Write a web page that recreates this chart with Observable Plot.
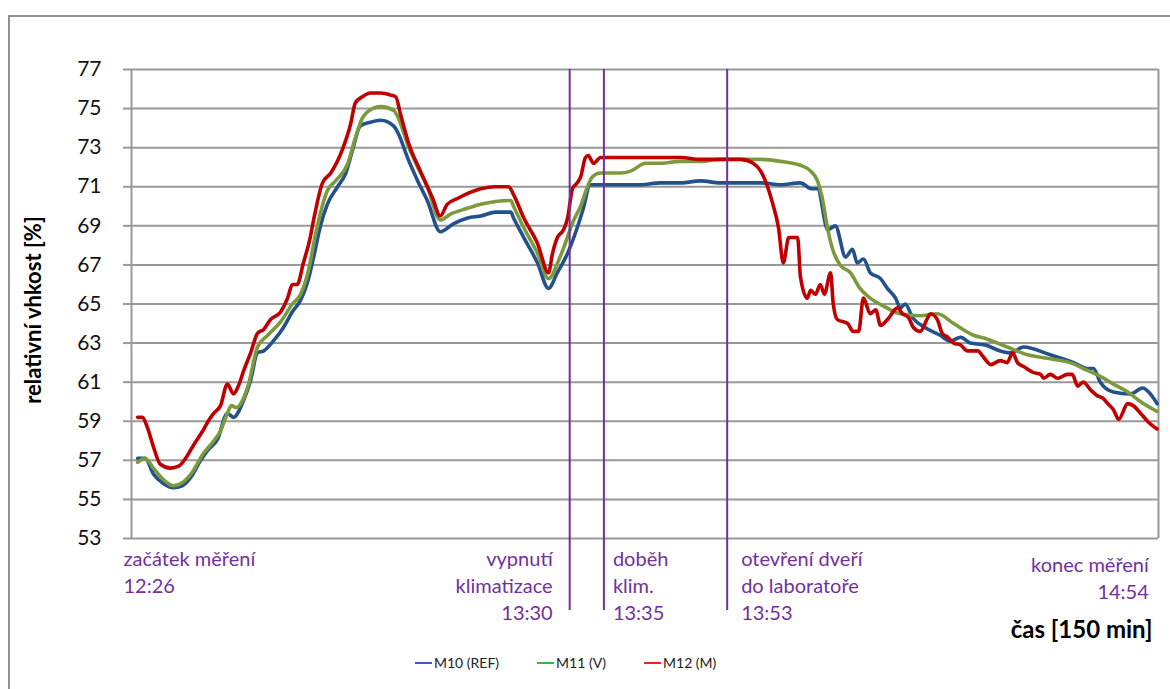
<!DOCTYPE html>
<html>
<head>
<meta charset="utf-8">
<script src="https://cdn.jsdelivr.net/npm/d3@7"></script>
<script src="https://cdn.jsdelivr.net/npm/@observablehq/plot@0.6"></script>
<style>
  html, body { margin: 0; padding: 0; background: #fff; }
  #wrap { position: relative; width: 1170px; height: 689px; overflow: hidden; font-family: Lato, "Open Sans", sans-serif; }
  #frame { position: absolute; left: 8px; top: 15px; width: 1200px; height: 720px;
           border-top: 2px solid #929292; border-left: 2px solid #929292; }
  #chart { position: absolute; left: 0; top: 0; }
  #legend { position: absolute; left: 415px; top: 653px; display: flex; gap: 38px;
            font-size: 14px; color: #222; line-height: 20px; }
  #legend .item { display: flex; align-items: center; }
  #legend .sw { width: 17px; height: 2.5px; margin-right: 2px; }
</style>
</head>
<body>
<div id="wrap">
  <div id="frame"></div>
  <div id="chart"></div>
  <div id="legend"></div>
</div>
<script>
// Relative humidity in the laboratory, minutes since 12:26 (measurement start)
const seriesNames = ["M10 (REF)", "M11 (V)", "M12 (M)"];
const lineColors = ["#22518C", "#7A9A3C", "#C00000"];
const legendColors = ["#4655D0", "#3CB44A", "#E8232A"];

const m10Minutes = [0.9, 2.0, 3.2, 4.7, 6.1, 7.4, 8.6, 10.1, 11.1, 12.6, 14.0, 14.9, 16.4, 17.4, 18.4, 19.3, 20.7, 22.2, 23.5, 24.7,
  25.7, 26.6, 27.6, 28.6, 30.1, 31.3, 32.3, 33.4, 34.9, 36.4, 38.3, 39.0, 40.3, 41.8, 43.2, 45.1, 47.0, 49.1, 51.0, 53.2,
  55.4, 55.8, 57.3, 59.3, 60.9, 62.2, 63.7, 65.1, 66.0, 67.0, 68.5, 71.4, 74.3, 77.3, 80.2, 83.1, 86.0, 89.0, 91.9, 94.8,
  97.7, 99.3, 100.2, 101.7, 102.8, 104.3, 105.3, 106.0, 106.9, 107.9, 109.4, 110.4, 111.6, 112.3, 113.0, 114.1, 115.9, 118.1, 119.6, 121.1,
  122.5, 124.7, 126.9, 128.4, 130.3, 134.2, 137.6, 139.6, 140.5, 141.5, 143.4, 145.9, 147.7, 148.8, 149.8];
const m10Values = [57.1, 57.1, 56.3, 55.8, 55.6, 55.7, 56.1, 57.0, 57.5, 58.1, 59.4, 59.2, 60.1, 61.1, 62.5, 62.6, 63.1, 63.8, 64.6, 65.2,
  66.1, 67.4, 69.0, 70.1, 71.0, 71.7, 72.9, 74.1, 74.3, 74.4, 74.1, 73.7, 72.5, 71.3, 70.3, 68.7, 69.1, 69.4, 69.5, 69.7,
  69.7, 69.4, 68.4, 67.1, 65.8, 66.6, 67.6, 68.9, 69.9, 71.1, 71.1, 71.1, 71.1, 71.2, 71.2, 71.3, 71.2, 71.2, 71.2, 71.1,
  71.2, 70.9, 70.9, 68.8, 69.0, 67.4, 67.8, 67.1, 67.3, 66.6, 66.3, 65.8, 65.3, 64.8, 65.0, 64.3, 63.8, 63.4, 63.1, 63.3,
  63.0, 62.9, 62.6, 62.5, 62.8, 62.4, 62.0, 61.7, 61.7, 61.0, 60.5, 60.4, 60.7, 60.4, 59.9];

const m11Minutes = [0.9, 2.0, 3.2, 4.7, 6.1, 7.6, 8.9, 10.4, 11.8, 13.0, 14.0, 14.6, 15.3, 16.4, 17.1, 18.4, 19.9, 21.8, 23.5, 24.7,
  25.9, 26.9, 28.6, 29.8, 31.6, 32.7, 33.7, 35.2, 36.4, 38.3, 39.0, 40.3, 41.8, 43.2, 45.1, 46.6, 49.1, 51.0, 55.4, 55.8,
  57.3, 59.3, 60.9, 62.7, 64.6, 65.6, 66.6, 67.3, 68.5, 71.4, 72.9, 75.1, 77.3, 80.2, 83.1, 86.0, 89.0, 91.9, 94.8, 97.7,
  99.2, 100.2, 100.9, 101.7, 102.5, 103.5, 105.0, 106.4, 107.9, 109.8, 112.3, 115.2, 117.7, 120.1, 123.0, 125.0, 127.9, 130.9, 134.2, 137.1,
  139.6, 141.5, 143.4, 145.5, 147.4, 149.8];
const m11Values = [56.9, 57.1, 56.6, 56.0, 55.7, 55.9, 56.4, 57.3, 57.9, 58.5, 59.4, 59.8, 59.7, 60.2, 60.9, 62.8, 63.4, 64.1, 65.0, 65.5,
  66.8, 68.6, 70.8, 71.3, 72.2, 73.5, 74.5, 75.0, 75.1, 74.9, 74.5, 73.2, 72.0, 71.0, 69.3, 69.6, 69.9, 70.1, 70.3, 70.0,
  68.9, 67.6, 66.3, 67.5, 69.3, 70.0, 71.0, 71.5, 71.7, 71.7, 71.8, 72.2, 72.2, 72.3, 72.3, 72.4, 72.4, 72.4, 72.3, 72.1,
  71.8, 71.3, 70.4, 68.8, 67.7, 67.0, 66.6, 65.8, 65.3, 64.9, 64.5, 64.4, 64.5, 64.0, 63.4, 63.2, 62.8, 62.4, 62.2, 62.0,
  61.6, 61.3, 60.9, 60.5, 60.0, 59.5];

const m12Minutes = [0.9, 1.6, 2.3, 3.2, 4.2, 5.7, 6.9, 7.9, 9.1, 10.4, 11.2, 12.0, 13.0, 14.0, 14.9, 15.6, 16.4, 17.4, 18.4, 19.3,
  20.3, 21.8, 22.8, 23.5, 24.2, 25.1, 26.1, 26.6, 27.9, 29.1, 30.8, 32.0, 32.7, 33.7, 34.9, 36.4, 37.8, 38.6, 39.3, 40.5,
  42.2, 44.0, 45.1, 46.1, 47.6, 51.0, 53.2, 55.1, 55.8, 57.3, 59.3, 60.9, 61.5, 62.2, 63.1, 63.7, 64.4, 65.1, 65.6, 66.3,
  66.7, 67.5, 68.5, 71.4, 74.3, 77.3, 80.2, 83.1, 86.0, 89.0, 90.8, 91.9, 92.9, 93.6, 94.5, 95.2, 96.0, 97.3, 97.7, 98.7,
  99.2, 99.9, 100.6, 101.2, 102.1, 102.5, 103.1, 104.6, 105.4, 106.2, 106.9, 107.9, 108.7, 109.4, 110.4, 111.9, 112.6, 113.5, 114.2, 115.2,
  116.3, 116.7, 117.7, 118.4, 119.2, 120.1, 121.1, 122.1, 123.6, 124.4, 125.5, 126.9, 127.9, 128.7, 129.4, 130.3, 131.7, 132.8, 133.2, 134.2,
  135.3, 136.7, 137.4, 138.2, 139.0, 140.1, 141.1, 141.8, 142.6, 143.4, 144.2, 145.5, 146.3, 147.4, 148.4, 149.8];
const m12Values = [59.2, 59.2, 58.7, 57.7, 56.8, 56.6, 56.7, 57.1, 57.8, 58.5, 59.0, 59.4, 59.8, 60.9, 60.4, 60.8, 61.6, 62.5, 63.5, 63.7,
  64.2, 64.6, 65.3, 66.0, 66.0, 67.1, 68.4, 69.3, 71.2, 71.7, 72.9, 74.2, 75.3, 75.6, 75.8, 75.8, 75.7, 75.6, 74.7, 73.2,
  71.8, 70.4, 69.5, 70.1, 70.4, 70.9, 71.0, 71.0, 70.6, 69.4, 68.1, 66.6, 67.6, 68.4, 68.8, 69.4, 70.9, 71.2, 71.5, 72.5,
  72.6, 72.2, 72.5, 72.5, 72.5, 72.5, 72.5, 72.4, 72.4, 72.4, 72.2, 71.8, 71.0, 70.2, 68.9, 67.1, 68.4, 68.4, 66.4, 65.3,
  65.7, 65.5, 66.0, 65.5, 66.6, 65.0, 64.2, 64.0, 63.6, 63.6, 65.3, 64.5, 64.7, 63.9, 64.2, 64.8, 64.5, 64.3, 63.8, 63.6,
  64.3, 64.5, 64.2, 63.5, 63.3, 63.0, 62.9, 62.6, 62.6, 62.3, 61.9, 62.1, 62.0, 62.5, 62.0, 61.8, 61.5, 61.4, 61.2, 61.4,
  61.2, 61.4, 61.4, 60.8, 61.0, 60.6, 60.3, 60.2, 59.9, 59.6, 59.1, 59.9, 59.8, 59.4, 59.0, 58.6];

// Events along the measurement (clock times)
const startClock = "12:26";
const eventNames = ["začátek měření", "vypnutí\nklimatizace", "doběh\nklim.", "otevření dveří\ndo laboratoře", "konec měření"];
const eventClocks = ["12:26", "13:30", "13:35", "13:53", "14:54"];

const yTicks = [53, 55, 57, 59, 61, 63, 65, 67, 69, 71, 73, 75, 77];
const yLabel = "relativní vhkost [%]";
const xLabel = "čas [150 min]";
const xDomain = [0, 150];
const yDomain = [53, 77];

const toMinutes = (c) => { const [h, m] = c.split(":").map(Number); return h * 60 + m; };
const events = eventNames.map((name, i) => ({
  name, clock: eventClocks[i],
  t: toMinutes(eventClocks[i]) - toMinutes(startClock),
  text: name + "\n" + eventClocks[i]
}));

const rows = [];
[[m10Minutes, m10Values], [m11Minutes, m11Values], [m12Minutes, m12Values]].forEach(([ts, vs], k) => {
  ts.forEach((t, i) => rows.push({series: seriesNames[k], t, v: vs[i]}));
});

const purple = "#7030A0";
const gridGray = "#999999";
const labelFont = {fontSize: 20, fill: purple, lineHeight: 1.33, lineAnchor: "top", frameAnchor: "bottom"};

const chart = Plot.plot({
  width: 1170,
  height: 689,
  marginLeft: 131,
  marginRight: 12,
  marginTop: 69,
  marginBottom: 151,
  style: {background: "transparent", fontFamily: "Lato, 'Open Sans', sans-serif"},
  x: {domain: xDomain, axis: null},
  y: {domain: yDomain, axis: null},
  color: {domain: seriesNames, range: lineColors},
  marks: [
    Plot.gridY(yTicks, {stroke: gridGray, strokeOpacity: 1, strokeWidth: 2}),
    Plot.ruleX(xDomain, {stroke: gridGray, strokeWidth: 2}),
    Plot.axisY(yTicks, {tickSize: 8, tickPadding: 22, stroke: gridGray, strokeWidth: 2, fill: "#111", fontSize: 21, label: null}),
    Plot.line(rows, {x: "t", y: "v", z: "series", stroke: "series", strokeWidth: 3.6, curve: "monotone-x", strokeLinejoin: "round"}),
    Plot.ruleX(events.slice(1, 4), {x: "t", stroke: purple, strokeWidth: 2, insetBottom: -72}),
    // start / end labels
    Plot.text([events[0]], {x: "t", text: "text", textAnchor: "start", dx: -8, dy: 9, ...labelFont}),
    Plot.text([events[4]], {x: "t", text: "text", textAnchor: "end", dx: 4, dy: 15, ...labelFont}),
    // event labels next to their rules
    Plot.text([events[1]], {x: "t", text: "text", textAnchor: "end", dx: -17, dy: 9, ...labelFont}),
    Plot.text([events[2]], {x: "t", text: "text", textAnchor: "start", dx: 9, dy: 9, ...labelFont}),
    Plot.text([events[3]], {x: "t", text: "text", textAnchor: "start", dx: 14, dy: 9, ...labelFont}),
    // axis titles
    Plot.text([yLabel], {frameAnchor: "left", dx: -98, dy: 6, rotate: -90, textAnchor: "middle", fontSize: 22, fontWeight: "bold", fill: "#000"}),
    Plot.text([xLabel], {frameAnchor: "bottom-right", dx: -6, dy: 99, fontSize: 24, fontWeight: "bold", fill: "#000", textAnchor: "end"})
  ]
});
document.getElementById("chart").appendChild(chart);

// legend below the plot
const legend = document.getElementById("legend");
seriesNames.forEach((name, i) => {
  const item = document.createElement("div");
  item.className = "item";
  const sw = document.createElement("span");
  sw.className = "sw";
  sw.style.background = legendColors[i];
  const label = document.createElement("span");
  label.textContent = name;
  item.appendChild(sw);
  item.appendChild(label);
  legend.appendChild(item);
});
</script>
</body>
</html>
